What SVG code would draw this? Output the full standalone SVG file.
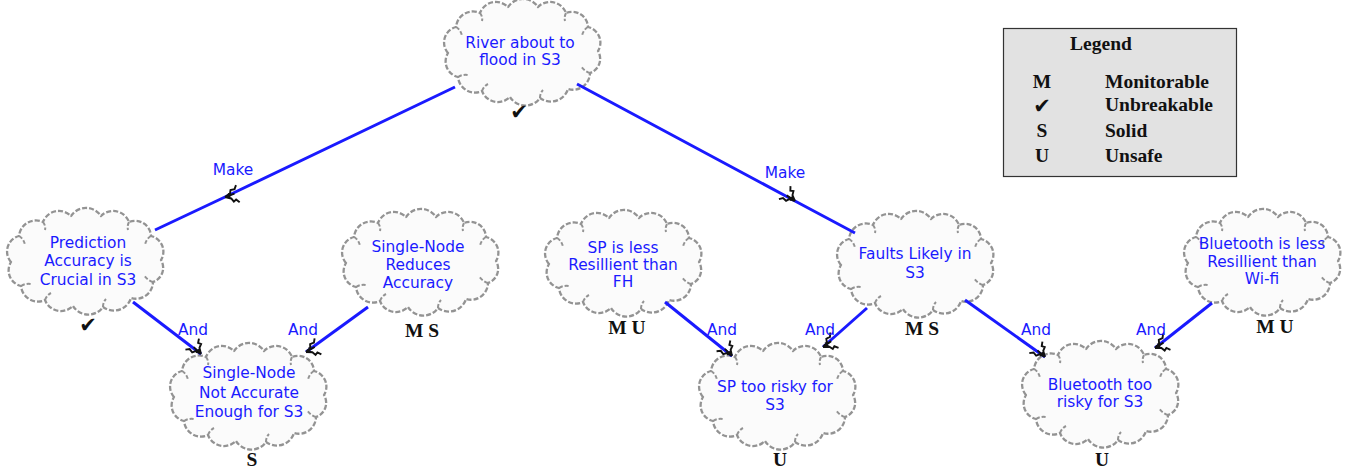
<svg xmlns="http://www.w3.org/2000/svg" width="1347" height="469" viewBox="0 0 1347 469">
<style>
.cloud{fill:#fbfbfb;stroke:#939393;stroke-width:2.3;stroke-dasharray:5 2;stroke-linejoin:round}
.curl{fill:none;stroke:#939393;stroke-width:2;stroke-dasharray:4 2}
.nt{font-family:"DejaVu Sans",Verdana,sans-serif;font-size:15.4px;fill:#1a1aff;text-anchor:middle}
.lbl{font-family:"DejaVu Sans",Verdana,sans-serif;font-size:15.4px;fill:#1a1aff;text-anchor:middle}
.mk{font-family:"Liberation Serif","Times New Roman",serif;font-size:19.5px;font-weight:bold;fill:#111;text-anchor:middle}
.chk{font-family:"DejaVu Sans",sans-serif;font-size:21px;fill:#111;text-anchor:middle}
.conn{fill:none;stroke:#1a1aff;stroke-width:3}
.lg{font-family:"Liberation Serif","Times New Roman",serif;font-size:19.5px;font-weight:bold;fill:#111}
</style>
<defs>
<marker id="ah" markerUnits="userSpaceOnUse" orient="auto" viewBox="-18 -12 20 24" refX="0" refY="0" markerWidth="20" markerHeight="24" overflow="visible">
<path d="M0,0 L-5,-4 L-6,-8 L-9,-7 L-11,-11 M0,0 L-6,1 L-8,4 L-12,3 L-15,6 M0,0 L-10,-1 M-4,-3 L-5,2" fill="none" stroke="#111" stroke-width="1.9"/>
</marker>
<g id="cloud">
<path class="cloud" d="M6,50 A16,16 0 0 1 14,24 A17,17 0 0 1 38,10 A17,17 0 0 1 66,4 A18,18 0 0 1 96,4 A17,17 0 0 1 124,10 A16,16 0 0 1 146,24 A16,16 0 0 1 156,48 A15,15 0 0 1 148,70 A17,17 0 0 1 126,86 A18,18 0 0 1 98,95 A18,18 0 0 1 68,94 A17,17 0 0 1 40,88 A17,17 0 0 1 16,74 A16,16 0 0 1 6,50 Z"/>
<path class="curl" d="M14,24 q5,3 6,9 M38,10 q3,4 2,8 M124,10 q-2,4 -1,8 M146,24 q-5,3 -6,9 M148,70 q-6,-2 -9,-7 M98,95 q0,-5 3,-8 M40,88 q2,-5 6,-7 M16,74 q5,-3 10,-2"/>
</g>
</defs>

<g id="node-river"><use href="#cloud" x="442" y="3"/><text class="nt" x="520" y="48">River about to</text><text class="nt" x="520" y="65">flood in S3</text><text class="chk" x="519" y="119">✔</text></g>
<g id="node-prediction"><use href="#cloud" x="5" y="212"/><text class="nt" x="88" y="248">Prediction</text><text class="nt" x="88" y="266">Accuracy is</text><text class="nt" x="88" y="285">Crucial in S3</text><text class="chk" x="88" y="332">✔</text></g>
<g id="node-reduces"><use href="#cloud" x="340" y="213"/><text class="nt" x="418" y="252">Single-Node</text><text class="nt" x="418" y="270">Reduces</text><text class="nt" x="418" y="288">Accuracy</text><text class="mk" x="422" y="337">M S</text></g>
<g id="node-notaccurate"><use href="#cloud" x="168" y="347"/><text class="nt" x="249" y="378">Single-Node</text><text class="nt" x="249" y="398">Not Accurate</text><text class="nt" x="249" y="417">Enough for S3</text><text class="mk" x="252" y="466">S</text></g>
<g id="node-spless"><use href="#cloud" x="543" y="214"/><text class="nt" x="623" y="253">SP is less</text><text class="nt" x="623" y="270">Resillient than</text><text class="nt" x="623" y="287">FH</text><text class="mk" x="627" y="334">M U</text></g>
<g id="node-sprisky"><use href="#cloud" x="697" y="347"/><text class="nt" x="775" y="392">SP too risky for</text><text class="nt" x="775" y="410">S3</text><text class="mk" x="780" y="466">U</text></g>
<g id="node-faults"><use href="#cloud" x="835" y="215"/><text class="nt" x="915" y="259">Faults Likely in</text><text class="nt" x="915" y="278">S3</text><text class="mk" x="922" y="335">M S</text></g>
<g id="node-btless"><use href="#cloud" x="1182" y="213"/><text class="nt" x="1262" y="249">Bluetooth is less</text><text class="nt" x="1262" y="267">Resillient than</text><text class="nt" x="1262" y="284">Wi-fi</text><text class="mk" x="1275" y="333">M U</text></g>
<g id="node-btrisky"><use href="#cloud" x="1020" y="345"/><text class="nt" x="1100" y="390">Bluetooth too</text><text class="nt" x="1100" y="407">risky for S3</text><text class="mk" x="1102" y="466">U</text></g>

<g id="connectors">
<path class="conn" d="M455,87 L225,197 L155,230" marker-mid="url(#ah)"/>
<path class="conn" d="M577,84 L795,201 L855,233" marker-mid="url(#ah)"/>
<path class="conn" d="M133,302 L201,354" marker-end="url(#ah)"/>
<path class="conn" d="M368,307 L306,352" marker-end="url(#ah)"/>
<path class="conn" d="M665,302 L732,356" marker-end="url(#ah)"/>
<path class="conn" d="M867,308 L823,347" marker-end="url(#ah)"/>
<path class="conn" d="M965,300 L1045,357" marker-end="url(#ah)"/>
<path class="conn" d="M1212,303 L1155,348" marker-end="url(#ah)"/>
<text class="lbl" x="233" y="175">Make</text>
<text class="lbl" x="785" y="178">Make</text>
<text class="lbl" x="193" y="335">And</text>
<text class="lbl" x="303" y="335">And</text>
<text class="lbl" x="722" y="335">And</text>
<text class="lbl" x="820" y="335">And</text>
<text class="lbl" x="1036" y="335">And</text>
<text class="lbl" x="1151" y="335">And</text>
</g>

<g id="legend">
<rect x="1003.5" y="28.5" width="233" height="148" fill="#e2e2e2" stroke="#333" stroke-width="1.2"/>
<text class="lg" x="1101" y="50" text-anchor="middle">Legend</text>
<text class="lg" x="1042" y="88" text-anchor="middle">M</text><text class="lg" x="1105" y="88">Monitorable</text>
<text class="chk" x="1042" y="113">✔</text><text class="lg" x="1105" y="111">Unbreakable</text>
<text class="lg" x="1042" y="137" text-anchor="middle">S</text><text class="lg" x="1105" y="137">Solid</text>
<text class="lg" x="1042" y="162" text-anchor="middle">U</text><text class="lg" x="1105" y="162">Unsafe</text>
</g>
</svg>
